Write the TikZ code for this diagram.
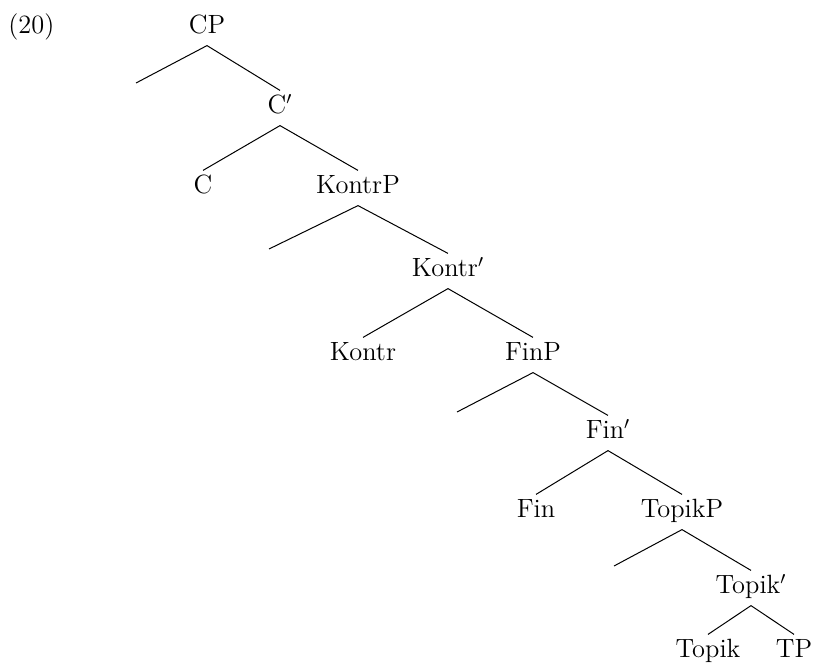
\documentclass[tikz,border=0pt]{standalone}
\usepackage{tikz}
\begin{document}
\begin{tikzpicture}[x=0.5pt, y=-0.5pt,
    cat/.style={anchor=base, inner xsep=0pt, inner ysep=3.6pt, text height=0.75em, text depth=0.25em, font=\fontsize{13.2}{16}\selectfont},
    branch/.style={line width=0.5pt}]
    \useasboundingbox (0,0) rectangle (813,664);

    % Example number
    \node[cat, anchor=base west] (exnum) at (8,33) {(20)};

    % Categories (x = centre, y = baseline)
    \node[cat] (CP)     at (207,33)  {CP};
    \node[cat] (Cbar)   at (280,113) {C$'$};
    \node[cat] (C)      at (203,193) {C};
    \node[cat] (KontrP) at (358,193) {KontrP};
    \node[cat] (Kbar)   at (448,276) {Kontr$'$};
    \node[cat] (Kontr)  at (363,360) {Kontr};
    \node[cat] (FinP)   at (533,360) {FinP};
    \node[cat] (Fbar)   at (608,438) {Fin$'$};
    \node[cat] (Fin)    at (536,517) {Fin};
    \node[cat] (TopikP) at (682,517) {TopikP};
    \node[cat] (Tbar)   at (751,593) {Topik$'$};
    \node[cat] (Topik)  at (708,657) {Topik};
    \node[cat] (TP)     at (794,657) {TP};

    % Empty specifier positions
    \coordinate (specC) at (136,83);
    \coordinate (specK) at (269,249);
    \coordinate (specF) at (457,412);
    \coordinate (specT) at (614,566);

    % Branches
    \draw[branch] (specC) -- (CP.south) -- (Cbar.north);
    \draw[branch] (C.north) -- (Cbar.south) -- (KontrP.north);
    \draw[branch] (specK) -- (KontrP.south) -- (Kbar.north);
    \draw[branch] (Kontr.north) -- (Kbar.south) -- (FinP.north);
    \draw[branch] (specF) -- (FinP.south) -- (Fbar.north);
    \draw[branch] (Fin.north) -- (Fbar.south) -- (TopikP.north);
    \draw[branch] (specT) -- (TopikP.south) -- (Tbar.north);
    \draw[branch] (Topik.north) -- (Tbar.south) -- (TP.north);
\end{tikzpicture}
\end{document}
